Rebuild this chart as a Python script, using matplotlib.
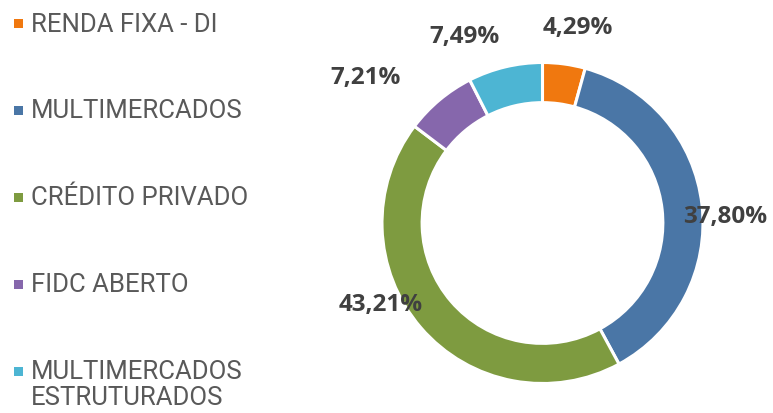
import numpy as np
import matplotlib
matplotlib.use("Agg")
import matplotlib.pyplot as plt
from matplotlib.patches import Rectangle

categories = ["RENDA FIXA - DI", "MULTIMERCADOS", "CRÉDITO PRIVADO", "FIDC ABERTO",
              "MULTIMERCADOS\nESTRUTURADOS"]
values = [4.29, 37.80, 43.21, 7.21, 7.49]
value_labels = ["4,29%", "37,80%", "43,21%", "7,21%", "7,49%"]
colors = ["#F0780F", "#4A76A6", "#7E9B40", "#8667AC", "#4DB5D3"]

# label placement (angle in degrees, radius relative to outer radius)
label_angles = [79.7, 2.2, 206.5, 140.6, 112.6]
label_radii = [1.24, 1.14, 1.13, 1.43, 1.26]

W, H = 773, 414
fig = plt.figure(figsize=(W / 100, H / 100), dpi=100)

cx, cy, R = 542.5, 190, 160.5
ax = fig.add_axes([(cx - R) / W, (cy - R) / H, 2 * R / W, 2 * R / H])
ax.pie(values, colors=colors, startangle=90, counterclock=False, radius=1,
       wedgeprops=dict(width=0.25, edgecolor="white", linewidth=2.2))
ax.set_xlim(-1, 1)
ax.set_ylim(-1, 1)
ax.set_aspect("equal")
ax.axis("off")

for lab, ang, r in zip(value_labels, label_angles, label_radii):
    a = np.deg2rad(ang)
    ax.text(r * np.cos(a), r * np.sin(a), lab, ha="center", va="center",
            fontsize=17.5, fontweight="bold", family="Open Sans", color="#404040")

# legend
row_top = 24
row_step = 87
for i, (cat, col) in enumerate(zip(categories, colors)):
    yc = row_top + i * row_step
    fig.patches.append(Rectangle((14 / W, 1 - (yc + 4.5) / H), 9 / W, 9 / H,
                                 facecolor=col, edgecolor="none",
                                 transform=fig.transFigure))
    fig.text(31 / W, 1 - (yc - 11.5) / H, cat, ha="left", va="top",
             fontsize=18.5, family="Roboto", color="#595959", linespacing=1.06)

fig.savefig("out.png", dpi=100, facecolor="white")
